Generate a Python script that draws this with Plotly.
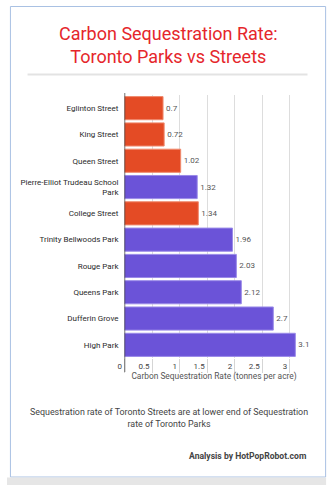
import plotly.graph_objects as go

categories = ["Eglinton Street", "King Street", "Queen Street",
              "Pierre-Elliot Trudeau School<br>Park", "College Street",
              "Trinity Bellwoods Park", "Rouge Park", "Queens Park",
              "Dufferin Grove", "High Park"]
values = [0.7, 0.72, 1.02, 1.32, 1.34, 1.96, 2.03, 2.12, 2.7, 3.1]
kinds = ["street", "street", "street", "park", "street",
         "park", "park", "park", "park", "park"]
value_labels = ["0.7", "0.72", "1.02", "1.32", "1.34", "1.96", "2.03", "2.12", "2.7", "3.1"]
tick_vals = [0, 0.5, 1, 1.5, 2, 2.5, 3]
tick_text = ["0", "0.5", "1", "1.5", "2", "2.5", "3"]

color_map = {"street": "#E44B25", "park": "#6B53D8"}
line_map = {"street": "#F08A6E", "park": "#9A8AE8"}

W, H = 331, 485
fig = go.Figure()
fig.add_trace(go.Bar(
    x=values, y=categories, orientation="h",
    marker=dict(color=[color_map[k] for k in kinds],
                line=dict(color=[line_map[k] for k in kinds], width=1)),
    text=value_labels, textposition="outside",
    textfont=dict(size=8, color="#555555", family="Roboto"),
    cliponaxis=False, width=0.88,
))

def px_x(p):
    return p / W

def px_y(p):
    return 1 - p / H

shapes = [
    # card border
    dict(type="rect", xref="paper", yref="paper", x0=px_x(3.5), x1=px_x(325.5),
         y0=px_y(477), y1=px_y(6.5), line=dict(color="#A9C1E3", width=1), fillcolor="rgba(0,0,0,0)", layer="below"),
    # bottom gray band
    dict(type="rect", xref="paper", yref="paper", x0=0, x1=px_x(326),
         y0=0, y1=px_y(477.5), line=dict(width=0), fillcolor="#E6E6E6", layer="below"),
    # divider
    dict(type="line", xref="paper", yref="paper", x0=px_x(21), x1=px_x(307),
         y0=px_y(74.5), y1=px_y(74.5), line=dict(color="#E3E3E3", width=2)),
    # baseline (value axis at zero) extended through tick area
    dict(type="line", xref="x", yref="paper", x0=0, x1=0,
         y0=px_y(372), y1=px_y(93), line=dict(color="#444444", width=1.5)),
]

annotations = [
    dict(text="Carbon Sequestration Rate:<br>Toronto Parks vs Streets", xref="paper", yref="paper",
         x=px_x(165), y=px_y(45), xanchor="center", yanchor="middle", showarrow=False,
         font=dict(size=18, color="#E5262B", family="Roboto")),
    dict(text="Sequestration rate of Toronto Streets are at lower end of Sequestration<br>rate of Toronto Parks",
         xref="paper", yref="paper", x=px_x(165), y=px_y(418), xanchor="center", yanchor="middle",
         showarrow=False, font=dict(size=8.9, color="#444444", family="Roboto")),
    dict(text="<b>Analysis by HotPopRobot.com</b>", xref="paper", yref="paper",
         x=px_x(307), y=px_y(456), xanchor="right", yanchor="middle", showarrow=False,
         font=dict(size=8.6, color="#444444", family="Roboto")),
]

fig.update_layout(
    width=W, height=H, margin=dict(l=0, r=0, t=0, b=0),
    paper_bgcolor="white", plot_bgcolor="white",
    showlegend=False, bargap=0.12,
    shapes=shapes, annotations=annotations,
    font=dict(family="Roboto"),
    xaxis=dict(domain=[px_x(120), px_x(303)], range=[0, 3.25],
               tickvals=tick_vals, ticktext=tick_text,
               ticks="outside", ticklen=14, tickcolor="#D5D5D5",
               ticklabelposition="outside left", ticklabelshift=-2,
               tickfont=dict(size=8, color="#444444"),
               showgrid=True, gridcolor="#DDDDDD", gridwidth=1,
               zeroline=False, showline=False,
               title=dict(text="Carbon Sequestration Rate (tonnes per acre)",
                          font=dict(size=8.4, color="#555555"), standoff=2)),
    yaxis=dict(domain=[px_y(358), px_y(95)], autorange="reversed",
               showline=False,
               ticks="", tickfont=dict(size=8, color="#2A2A2A"),
               ticklabelstandoff=5, showgrid=False),
)

fig.write_html("out.html")
